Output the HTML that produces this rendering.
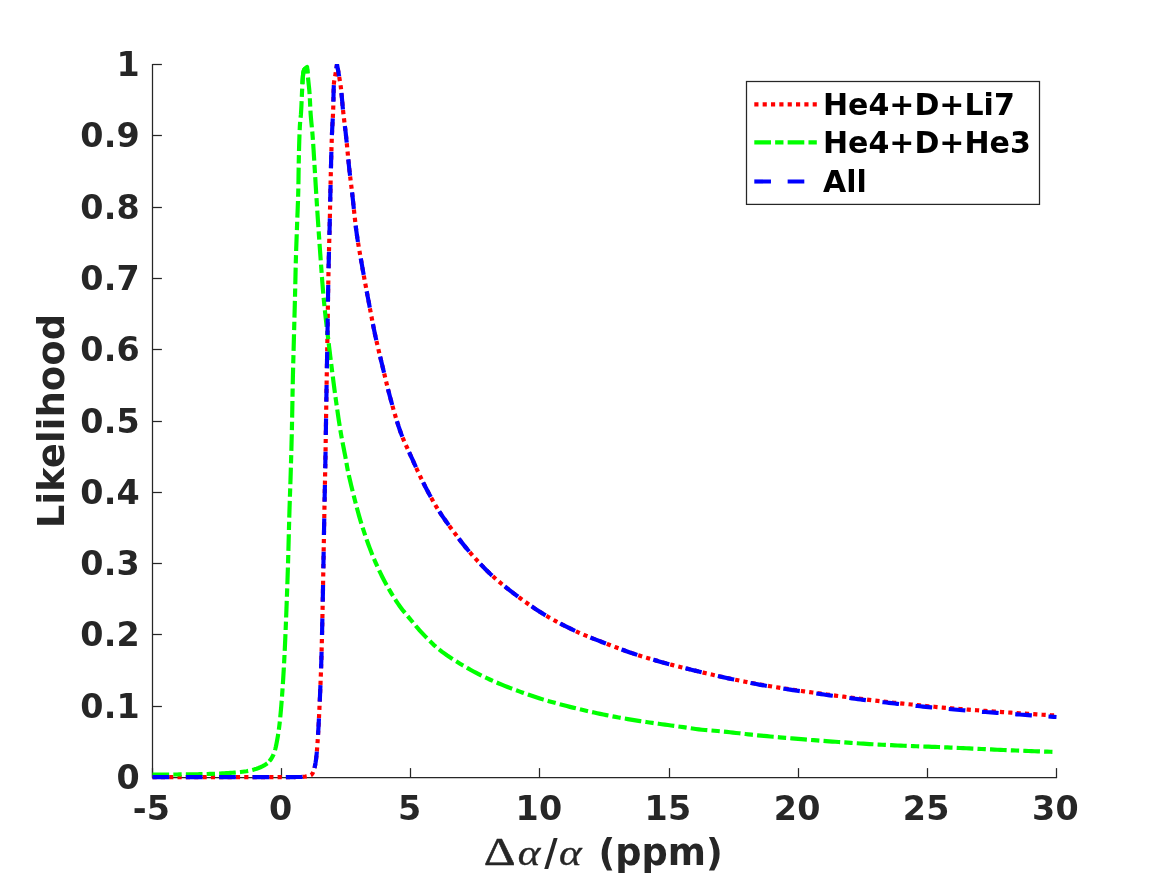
<!DOCTYPE html>
<html><head><meta charset="utf-8"><title>Likelihood</title>
<style>
html,body{margin:0;padding:0;background:#fff;}
svg{display:block;}
text{font-family:"DejaVu Sans","Liberation Sans",sans-serif;font-weight:bold;}
.tick{font-size:33.33px;fill:#262626;letter-spacing:0.3px;}
.lab{font-size:36.67px;fill:#262626;}
.leg{font-size:30px;fill:#000;}
.math{font-family:"Liberation Serif","DejaVu Serif",serif;font-weight:normal;}
</style></head><body>
<svg width="1167" height="875" viewBox="0 0 1167 875">
<rect width="1167" height="875" fill="#fff"/>

<g stroke="#262626" stroke-width="1.25" fill="none">
<path d="M152.5 63.9 V777.5 H1057.1"/>
<path d="M152.50 777.5 v-9.4"/>
<path d="M281.50 777.5 v-9.4"/>
<path d="M410.50 777.5 v-9.4"/>
<path d="M539.50 777.5 v-9.4"/>
<path d="M669.50 777.5 v-9.4"/>
<path d="M798.50 777.5 v-9.4"/>
<path d="M927.50 777.5 v-9.4"/>
<path d="M1056.50 777.5 v-9.4"/>
<path d="M152.5 777.50 h9.4"/>
<path d="M152.5 706.50 h9.4"/>
<path d="M152.5 634.50 h9.4"/>
<path d="M152.5 563.50 h9.4"/>
<path d="M152.5 492.50 h9.4"/>
<path d="M152.5 421.50 h9.4"/>
<path d="M152.5 349.50 h9.4"/>
<path d="M152.5 278.50 h9.4"/>
<path d="M152.5 207.50 h9.4"/>
<path d="M152.5 135.50 h9.4"/>
<path d="M152.5 64.50 h9.4"/>
</g>
<clipPath id="ax"><rect x="100" y="63.9" width="1000" height="760"/></clipPath>
<g fill="none" stroke-width="4.17" stroke-linejoin="round" stroke-linecap="butt" clip-path="url(#ax)">
<path d="M152.50 777.20 L154.68 777.20 L156.87 777.20 L159.05 777.20 L161.23 777.20 L163.42 777.20 L165.60 777.20 L167.78 777.20 L169.97 777.20 L172.15 777.20 L174.33 777.20 L176.51 777.20 L178.70 777.20 L180.88 777.20 L183.06 777.20 L185.25 777.20 L187.43 777.20 L189.61 777.20 L191.80 777.20 L193.98 777.20 L196.16 777.20 L198.35 777.20 L200.53 777.20 L202.71 777.20 L204.90 777.20 L207.08 777.20 L209.26 777.20 L211.45 777.20 L213.63 777.20 L215.81 777.20 L217.99 777.20 L220.18 777.20 L222.36 777.20 L224.54 777.20 L226.73 777.20 L228.91 777.20 L231.09 777.20 L233.28 777.20 L235.46 777.20 L237.64 777.20 L239.83 777.20 L242.01 777.20 L244.19 777.20 L246.38 777.20 L248.56 777.20 L250.74 777.20 L252.92 777.20 L255.11 777.20 L257.29 777.20 L259.48 777.20 L261.66 777.19 L263.85 777.19 L266.03 777.19 L268.22 777.18 L270.40 777.18 L272.58 777.17 L274.77 777.16 L276.95 777.16 L279.14 777.15 L281.32 777.14 L283.50 777.13 L285.69 777.11 L287.87 777.10 L290.05 777.09 L292.23 777.07 L294.41 777.05 L296.59 777.03 L298.77 777.01 L300.95 776.97 L303.14 776.80 L305.30 776.55 L307.64 776.18 L309.85 775.64 L311.45 774.84 L312.66 773.15 L313.61 770.90 L314.28 768.76 L314.80 766.68 L315.25 764.53 L315.62 762.36 L315.94 760.17 L316.21 758.00 L316.46 755.83 L316.67 753.66 L316.87 751.49 L317.05 749.31 L317.21 747.13 L317.37 744.95 L317.52 742.77 L317.67 740.59 L317.81 738.41 L317.95 736.24 L318.08 734.06 L318.22 731.88 L318.34 729.70 L318.47 727.52 L318.59 725.34 L318.70 723.16 L318.82 720.98 L318.93 718.80 L319.04 716.62 L319.14 714.44 L319.25 712.26 L319.35 710.07 L319.45 707.89 L319.55 705.71 L319.65 703.53 L319.75 701.35 L319.85 699.17 L319.95 696.99 L320.04 694.81 L320.14 692.63 L320.23 690.45 L320.32 688.26 L320.41 686.08 L320.50 683.90 L320.58 681.72 L320.67 679.54 L320.75 677.36 L320.83 675.17 L320.91 672.99 L320.99 670.81 L321.07 668.63 L321.14 666.45 L321.21 664.27 L321.28 662.08 L321.35 659.90 L321.41 657.72 L321.47 655.54 L321.53 653.36 L321.60 651.17 L321.65 648.99 L321.71 646.81 L321.77 644.63 L321.82 642.44 L321.88 640.26 L321.93 638.08 L321.99 635.90 L322.04 633.71 L322.09 631.53 L322.14 629.35 L322.19 627.17 L322.24 624.98 L322.29 622.80 L322.33 620.62 L322.38 618.43 L322.43 616.25 L322.48 614.07 L322.52 611.89 L322.57 609.70 L322.62 607.52 L322.66 605.34 L322.70 603.16 L322.75 600.97 L322.79 598.79 L322.83 596.61 L322.88 594.43 L322.92 592.24 L322.96 590.06 L323.00 587.88 L323.04 585.69 L323.08 583.51 L323.12 581.33 L323.16 579.15 L323.20 576.96 L323.24 574.78 L323.28 572.60 L323.32 570.41 L323.36 568.23 L323.40 566.05 L323.44 563.87 L323.48 561.68 L323.52 559.50 L323.56 557.32 L323.60 555.14 L323.64 552.95 L323.67 550.77 L323.71 548.59 L323.75 546.40 L323.79 544.22 L323.83 542.04 L323.87 539.86 L323.91 537.67 L323.94 535.49 L323.98 533.31 L324.02 531.12 L324.06 528.94 L324.10 526.76 L324.14 524.58 L324.18 522.39 L324.22 520.21 L324.26 518.03 L324.30 515.84 L324.35 513.66 L324.39 511.48 L324.43 509.30 L324.47 507.11 L324.52 504.93 L324.56 502.75 L324.60 500.57 L324.64 498.38 L324.69 496.20 L324.73 494.02 L324.77 491.83 L324.82 489.65 L324.86 487.47 L324.90 485.29 L324.95 483.10 L324.99 480.92 L325.03 478.74 L325.08 476.56 L325.12 474.37 L325.16 472.19 L325.21 470.01 L325.25 467.83 L325.30 465.64 L325.34 463.46 L325.38 461.28 L325.42 459.09 L325.46 456.91 L325.49 454.73 L325.53 452.55 L325.57 450.36 L325.60 448.18 L325.64 446.00 L325.67 443.81 L325.70 441.63 L325.74 439.45 L325.77 437.27 L325.80 435.08 L325.84 432.90 L325.87 430.72 L325.90 428.53 L325.93 426.35 L325.97 424.17 L326.00 421.99 L326.04 419.80 L326.07 417.62 L326.10 415.44 L326.14 413.25 L326.17 411.07 L326.21 408.89 L326.24 406.71 L326.28 404.52 L326.31 402.34 L326.35 400.16 L326.38 397.97 L326.42 395.79 L326.46 393.61 L326.49 391.43 L326.53 389.24 L326.56 387.06 L326.60 384.88 L326.63 382.69 L326.67 380.51 L326.71 378.33 L326.74 376.15 L326.78 373.96 L326.82 371.78 L326.85 369.60 L326.89 367.41 L326.93 365.23 L326.97 363.05 L327.01 360.87 L327.05 358.68 L327.09 356.50 L327.13 354.32 L327.17 352.13 L327.21 349.95 L327.25 347.77 L327.29 345.59 L327.32 343.40 L327.36 341.22 L327.40 339.04 L327.44 336.85 L327.47 334.67 L327.51 332.49 L327.54 330.31 L327.58 328.12 L327.61 325.94 L327.64 323.76 L327.67 321.57 L327.70 319.39 L327.73 317.21 L327.76 315.03 L327.79 312.84 L327.83 310.66 L327.86 308.48 L327.89 306.29 L327.92 304.11 L327.95 301.93 L327.99 299.75 L328.02 297.56 L328.06 295.38 L328.09 293.20 L328.13 291.01 L328.17 288.83 L328.21 286.65 L328.25 284.47 L328.29 282.28 L328.34 280.10 L328.38 277.92 L328.43 275.73 L328.47 273.55 L328.52 271.37 L328.56 269.19 L328.61 267.00 L328.66 264.82 L328.71 262.64 L328.76 260.46 L328.81 258.27 L328.86 256.09 L328.91 253.91 L328.97 251.73 L329.03 249.54 L329.08 247.36 L329.14 245.18 L329.20 243.00 L329.26 240.81 L329.32 238.63 L329.38 236.45 L329.44 234.27 L329.50 232.09 L329.56 229.90 L329.62 227.72 L329.67 225.54 L329.72 223.36 L329.77 221.17 L329.82 218.99 L329.87 216.81 L329.92 214.63 L329.97 212.44 L330.01 210.26 L330.06 208.08 L330.10 205.89 L330.15 203.71 L330.19 201.53 L330.24 199.35 L330.29 197.16 L330.33 194.98 L330.38 192.80 L330.43 190.62 L330.48 188.43 L330.53 186.25 L330.57 184.07 L330.62 181.89 L330.67 179.70 L330.72 177.52 L330.77 175.34 L330.82 173.16 L330.88 170.97 L330.93 168.79 L330.99 166.61 L331.04 164.43 L331.10 162.24 L331.15 160.06 L331.21 157.88 L331.27 155.70 L331.33 153.51 L331.39 151.33 L331.46 149.15 L331.52 146.97 L331.59 144.78 L331.66 142.60 L331.73 140.42 L331.81 138.24 L331.89 136.06 L331.97 133.88 L332.07 131.69 L332.17 129.51 L332.29 127.33 L332.41 125.15 L332.53 122.97 L332.65 120.79 L332.77 118.61 L332.88 116.43 L332.99 114.25 L333.09 112.07 L333.17 109.89 L333.25 107.71 L333.31 105.52 L333.36 103.34 L333.40 101.15 L333.45 98.96 L333.49 96.77 L333.53 94.59 L333.58 92.40 L333.64 90.22 L333.71 88.05 L333.80 85.87 L333.91 83.70 L334.15 81.54 L334.53 79.39 L334.96 77.24 L335.33 75.09 L335.67 72.93 L336.01 70.77 L336.34 68.62 L336.67 66.46 L337.00 64.30 L337.51 67.10 L338.02 69.91 L338.51 72.71 L338.99 75.52 L339.46 78.33 L339.93 81.14 L340.39 83.96 L340.77 86.78 L341.10 89.61 L341.39 92.44 L341.67 95.28 L341.92 98.11 L342.17 100.95 L342.42 103.79 L342.68 106.63 L342.95 109.47 L343.25 112.30 L343.57 115.13 L343.90 117.96 L344.24 120.79 L344.58 123.62 L344.93 126.45 L345.27 129.28 L345.60 132.11 L345.92 134.94 L346.22 137.78 L346.51 140.61 L346.79 143.44 L347.07 146.28 L347.34 149.12 L347.61 151.95 L347.88 154.79 L348.15 157.63 L348.42 160.46 L348.70 163.30 L348.99 166.13 L349.29 168.97 L349.60 171.80 L349.93 174.63 L350.27 177.46 L350.61 180.29 L350.96 183.12 L351.31 185.94 L351.65 188.77 L351.99 191.60 L352.31 194.43 L352.63 197.27 L352.93 200.10 L353.23 202.93 L353.53 205.77 L353.82 208.60 L354.12 211.44 L354.42 214.27 L354.72 217.11 L355.04 219.94 L355.36 222.77 L355.69 225.60 L356.03 228.43 L356.39 231.25 L356.77 234.07 L357.18 236.89 L357.60 239.71 L358.04 242.52 L358.50 245.33 L358.97 248.14 L359.45 250.95 L359.94 253.76 L360.44 256.57 L360.93 259.38 L361.43 262.18 L361.93 264.99 L362.42 267.80 L362.92 270.60 L363.42 273.41 L363.92 276.21 L364.44 279.01 L364.95 281.82 L365.47 284.62 L365.99 287.42 L366.52 290.22 L367.04 293.02 L367.57 295.82 L368.10 298.62 L368.62 301.42 L369.15 304.22 L369.67 307.02 L370.19 309.83 L370.71 312.63 L371.24 315.43 L371.77 318.23 L372.31 321.03 L372.85 323.82 L373.41 326.62 L373.97 329.41 L374.55 332.20 L375.14 334.99 L375.74 337.77 L376.37 340.55 L377.00 343.33 L377.64 346.10 L378.30 348.88 L378.96 351.65 L379.62 354.42 L380.29 357.19 L380.96 359.96 L381.62 362.73 L382.29 365.50 L382.95 368.28 L383.61 371.05 L384.28 373.82 L384.94 376.59 L385.61 379.36 L386.28 382.13 L386.96 384.90 L387.65 387.67 L388.35 390.43 L389.06 393.19 L389.78 395.94 L390.52 398.69 L391.27 401.44 L392.03 404.19 L392.78 406.94 L393.55 409.69 L394.33 412.44 L395.13 415.18 L395.94 417.92 L396.77 420.65 L397.62 423.37 L398.49 426.08 L399.39 428.78 L400.32 431.46 L401.29 434.12 L402.31 436.77 L403.38 439.40 L404.50 442.02 L405.65 444.63 L406.83 447.23 L408.02 449.83 L409.23 452.42 L410.43 455.01 L411.62 457.60 L412.80 460.20 L413.96 462.80 L415.13 465.40 L416.30 468.00 L417.49 470.59 L418.69 473.17 L419.91 475.74 L421.15 478.31 L422.39 480.88 L423.65 483.44 L424.93 485.98 L426.22 488.52 L427.54 491.05 L428.87 493.56 L430.23 496.07 L431.60 498.57 L433.00 501.06 L434.42 503.53 L435.86 505.99 L437.34 508.43 L438.84 510.84 L440.39 513.23 L441.98 515.59 L443.60 517.93 L445.25 520.26 L446.91 522.58 L448.59 524.89 L450.27 527.19 L451.95 529.49 L453.64 531.78 L455.35 534.07 L457.06 536.36 L458.79 538.63 L460.53 540.89 L462.29 543.13 L464.07 545.36 L465.87 547.56 L467.69 549.74 L469.53 551.90 L471.40 554.06 L473.28 556.20 L475.18 558.33 L477.10 560.44 L479.04 562.54 L481.00 564.62 L482.98 566.68 L484.98 568.72 L487.01 570.73 L489.05 572.71 L491.11 574.66 L493.19 576.58 L495.30 578.48 L497.45 580.35 L499.62 582.19 L501.81 584.02 L504.03 585.82 L506.26 587.60 L508.51 589.37 L510.77 591.12 L513.04 592.85 L515.31 594.57 L517.59 596.27 L519.88 597.97 L522.18 599.65 L524.48 601.33 L526.80 602.99 L529.14 604.64 L531.48 606.27 L533.84 607.88 L536.21 609.47 L538.60 611.03 L541.00 612.56 L543.41 614.06 L545.84 615.52 L548.29 616.97 L550.76 618.39 L553.24 619.79 L555.74 621.16 L558.25 622.52 L560.78 623.86 L563.31 625.17 L565.86 626.46 L568.42 627.73 L570.98 628.98 L573.56 630.20 L576.13 631.39 L578.72 632.56 L581.33 633.70 L583.95 634.82 L586.58 635.92 L589.22 636.99 L591.87 638.06 L594.52 639.11 L597.18 640.15 L599.84 641.18 L602.50 642.21 L605.16 643.23 L607.82 644.25 L610.48 645.28 L613.14 646.29 L615.81 647.30 L618.48 648.30 L621.15 649.30 L623.83 650.27 L626.51 651.24 L629.20 652.18 L631.89 653.10 L634.59 654.01 L637.30 654.88 L640.01 655.75 L642.73 656.59 L645.46 657.42 L648.19 658.24 L650.92 659.04 L653.66 659.84 L656.41 660.62 L659.15 661.39 L661.90 662.15 L664.65 662.90 L667.40 663.65 L670.15 664.39 L672.90 665.11 L675.66 665.83 L678.42 666.54 L681.18 667.24 L683.95 667.93 L686.71 668.61 L689.48 669.29 L692.25 669.96 L695.02 670.63 L697.79 671.29 L700.56 671.95 L703.34 672.61 L706.11 673.27 L708.88 673.92 L711.66 674.57 L714.44 675.20 L717.22 675.82 L720.00 676.43 L722.78 677.03 L725.57 677.63 L728.36 678.23 L731.15 678.82 L733.93 679.41 L736.73 679.99 L739.52 680.57 L742.31 681.14 L745.11 681.70 L747.90 682.25 L750.70 682.79 L753.50 683.32 L756.30 683.84 L759.10 684.34 L761.91 684.84 L764.71 685.32 L767.52 685.79 L770.33 686.25 L773.14 686.71 L775.95 687.16 L778.77 687.60 L781.58 688.04 L784.40 688.47 L787.22 688.89 L790.04 689.31 L792.86 689.73 L795.68 690.14 L798.50 690.55 L801.32 690.95 L804.15 691.35 L806.97 691.74 L809.79 692.14 L812.62 692.53 L815.44 692.91 L818.26 693.30 L821.09 693.69 L823.91 694.07 L826.73 694.45 L829.55 694.83 L832.38 695.21 L835.20 695.58 L838.03 695.96 L840.85 696.33 L843.68 696.69 L846.51 697.06 L849.33 697.42 L852.16 697.78 L854.99 698.13 L857.82 698.48 L860.64 698.83 L863.47 699.18 L866.30 699.52 L869.13 699.86 L871.96 700.19 L874.79 700.53 L877.62 700.85 L880.45 701.18 L883.28 701.50 L886.11 701.81 L888.95 702.13 L891.78 702.44 L894.61 702.75 L897.44 703.06 L900.28 703.36 L903.11 703.66 L905.94 703.96 L908.78 704.26 L911.61 704.55 L914.45 704.85 L917.28 705.13 L920.12 705.42 L922.95 705.70 L925.79 705.98 L928.63 706.25 L931.46 706.52 L934.30 706.78 L937.14 707.05 L939.97 707.30 L942.81 707.55 L945.65 707.80 L948.49 708.04 L951.33 708.28 L954.17 708.52 L957.01 708.75 L959.85 708.97 L962.69 709.20 L965.53 709.42 L968.37 709.64 L971.21 709.85 L974.05 710.06 L976.89 710.27 L979.74 710.48 L982.58 710.69 L985.42 710.89 L988.26 711.09 L991.11 711.29 L993.95 711.49 L996.79 711.69 L999.63 711.89 L1002.48 712.08 L1005.32 712.28 L1008.16 712.48 L1011.00 712.67 L1013.85 712.87 L1016.69 713.06 L1019.53 713.25 L1022.38 713.44 L1025.22 713.63 L1028.06 713.81 L1030.91 714.00 L1033.75 714.18 L1036.59 714.37 L1039.44 714.55 L1042.28 714.73 L1045.12 714.90 L1047.97 715.08 L1050.81 715.25 L1053.66 715.43 L1056.50 715.60" stroke="#ff0000" stroke-dasharray="4.17 4.17"/>
<path d="M152.50 774.60 L154.55 774.60 L156.60 774.60 L158.65 774.59 L160.70 774.58 L162.75 774.58 L164.79 774.57 L166.84 774.55 L168.89 774.54 L170.94 774.52 L172.99 774.51 L175.04 774.49 L177.09 774.47 L179.13 774.45 L181.18 774.43 L183.23 774.40 L185.28 774.38 L187.33 774.36 L189.37 774.33 L191.42 774.30 L193.47 774.27 L195.52 774.24 L197.57 774.22 L199.61 774.18 L201.66 774.15 L203.71 774.10 L205.76 774.05 L207.81 773.99 L209.86 773.92 L211.90 773.85 L213.95 773.77 L216.00 773.69 L218.05 773.60 L220.09 773.50 L222.14 773.40 L224.18 773.30 L226.23 773.19 L228.27 773.07 L230.32 772.93 L232.37 772.78 L234.42 772.62 L236.47 772.43 L238.52 772.22 L240.56 772.00 L242.59 771.75 L244.61 771.49 L246.61 771.20 L248.62 770.85 L250.64 770.42 L252.65 769.91 L254.64 769.33 L256.61 768.69 L258.53 768.00 L260.40 767.26 L262.27 766.41 L264.14 765.42 L265.93 764.29 L267.56 763.06 L267.73 762.90" stroke="#00ff00" stroke-dasharray="16.67 4.17 8.33 4.17"/>
<path d="M267.73 762.90 L268.95 761.73 L270.23 760.19 L271.43 758.47 L272.50 756.63 L273.42 754.74 L274.16 752.87 L274.77 750.96 L275.31 748.99 L275.80 746.98 L276.23 744.95 L276.64 742.91 L277.02 740.90 L277.39 738.88 L277.74 736.87 L278.07 734.84 L278.39 732.82 L278.68 730.79 L278.96 728.76 L279.22 726.72 L279.46 724.69 L279.69 722.66 L279.90 720.62 L280.12 718.59 L280.32 716.55 L280.51 714.51 L280.70 712.47 L280.89 710.43 L281.06 708.38 L281.24 706.34 L281.40 704.30 L281.56 702.26 L281.72 700.21 L281.88 698.17 L282.03 696.12 L282.17 694.08 L282.32 692.04 L282.46 690.00 L282.60 687.95 L282.74 685.91 L282.87 683.86 L283.00 681.82 L283.13 679.78 L283.26 677.73 L283.38 675.69 L283.50 673.64 L283.62 671.60 L283.74 669.55 L283.85 667.50 L283.96 665.46 L284.07 663.41 L284.18 661.37 L284.29 659.32 L284.39 657.28 L284.50 655.23 L284.60 653.18 L284.70 651.14 L284.80 649.09 L284.89 647.05 L284.99 645.00 L285.08 642.95 L285.17 640.91 L285.26 638.86 L285.35 636.81 L285.44 634.77 L285.52 632.72 L285.61 630.67 L285.69 628.63 L285.77 626.58 L285.85 624.53 L285.93 622.48 L286.01 620.44 L286.09 618.39 L286.17 616.34 L286.25 614.30 L286.33 612.25 L286.41 610.20 L286.48 608.16 L286.56 606.11 L286.64 604.06 L286.71 602.01 L286.79 599.97 L286.86 597.92 L286.94 595.87 L287.01 593.83 L287.09 591.78 L287.16 589.73 L287.23 587.68 L287.30 585.64 L287.37 583.59 L287.44 581.54 L287.51 579.49 L287.58 577.45 L287.65 575.40 L287.71 573.35 L287.78 571.31 L287.85 569.26 L287.91 567.21 L287.97 565.16 L288.04 563.12 L288.10 561.07 L288.16 559.02 L288.22 556.97 L288.27 554.92 L288.33 552.88 L288.38 550.83 L288.44 548.78 L288.49 546.73 L288.55 544.69 L288.60 542.64 L288.65 540.59 L288.71 538.54 L288.76 536.49 L288.81 534.45 L288.86 532.40 L288.92 530.35 L288.97 528.30 L289.02 526.26 L289.08 524.21 L289.13 522.16 L289.19 520.11 L289.25 518.06 L289.31 516.02 L289.37 513.97 L289.43 511.92 L289.49 509.87 L289.55 507.83 L289.62 505.78 L289.69 503.73 L289.75 501.68 L289.82 499.64 L289.89 497.59 L289.96 495.54 L290.03 493.49 L290.10 491.45 L290.17 489.40 L290.24 487.35 L290.31 485.31 L290.38 483.26 L290.45 481.21 L290.52 479.16 L290.58 477.12 L290.65 475.07 L290.71 473.02 L290.77 470.97 L290.83 468.93 L290.89 466.88 L290.95 464.83 L291.01 462.78 L291.07 460.73 L291.13 458.69 L291.18 456.64 L291.24 454.59 L291.30 452.54 L291.35 450.50 L291.41 448.45 L291.46 446.40 L291.52 444.35 L291.57 442.30 L291.62 440.26 L291.67 438.21 L291.72 436.16 L291.77 434.11 L291.82 432.07 L291.87 430.02 L291.92 427.97 L291.96 425.92 L292.01 423.87 L292.05 421.83 L292.09 419.78 L292.13 417.73 L292.17 415.68 L292.21 413.63 L292.25 411.58 L292.29 409.54 L292.32 407.49 L292.36 405.44 L292.39 403.39 L292.43 401.34 L292.46 399.30 L292.50 397.25 L292.53 395.20 L292.57 393.15 L292.61 391.10 L292.65 389.05 L292.68 387.01 L292.73 384.96 L292.77 382.91 L292.81 380.86 L292.86 378.81 L292.90 376.77 L292.95 374.72 L293.00 372.67 L293.05 370.62 L293.10 368.57 L293.16 366.53 L293.21 364.48 L293.26 362.43 L293.32 360.38 L293.37 358.34 L293.43 356.29 L293.48 354.24 L293.54 352.19 L293.60 350.14 L293.65 348.10 L293.71 346.05 L293.76 344.00 L293.82 341.95 L293.87 339.91 L293.93 337.86 L293.98 335.81 L294.03 333.76 L294.09 331.71 L294.14 329.67 L294.20 327.62 L294.25 325.57 L294.30 323.52 L294.36 321.48 L294.41 319.43 L294.47 317.38 L294.52 315.33 L294.57 313.28 L294.63 311.24 L294.68 309.19 L294.74 307.14 L294.79 305.09 L294.84 303.05 L294.89 301.00 L294.95 298.95 L295.00 296.90 L295.05 294.85 L295.10 292.81 L295.15 290.76 L295.20 288.71 L295.24 286.66 L295.29 284.61 L295.34 282.57 L295.38 280.52 L295.42 278.47 L295.47 276.42 L295.51 274.37 L295.56 272.33 L295.61 270.28 L295.65 268.23 L295.70 266.18 L295.75 264.13 L295.81 262.09 L295.86 260.04 L295.92 257.99 L295.98 255.94 L296.04 253.90 L296.11 251.85 L296.17 249.80 L296.24 247.75 L296.32 245.71 L296.39 243.66 L296.46 241.61 L296.54 239.57 L296.62 237.52 L296.69 235.47 L296.77 233.42 L296.84 231.38 L296.92 229.33 L296.99 227.28 L297.07 225.23 L297.14 223.19 L297.21 221.14 L297.29 219.09 L297.37 217.05 L297.45 215.00 L297.53 212.95 L297.61 210.90 L297.69 208.86 L297.77 206.81 L297.84 204.76 L297.92 202.72 L297.99 200.67 L298.06 198.62 L298.12 196.57 L298.19 194.53 L298.24 192.48 L298.29 190.43 L298.33 188.38 L298.37 186.34 L298.41 184.29 L298.45 182.24 L298.48 180.19 L298.51 178.14 L298.54 176.09 L298.56 174.05 L298.59 172.00 L298.62 169.95 L298.65 167.90 L298.68 165.85 L298.72 163.80 L298.76 161.76 L298.80 159.71 L298.84 157.66 L298.89 155.61 L298.94 153.56 L298.98 151.51 L299.03 149.47 L299.09 147.42 L299.14 145.37 L299.20 143.32 L299.26 141.27 L299.33 139.22 L299.40 137.17 L299.47 135.13 L299.55 133.08 L299.64 131.04 L299.73 128.99 L299.82 126.95 L299.93 124.90 L300.08 122.86 L300.27 120.82 L300.49 118.78 L300.70 116.74 L300.90 114.70 L301.04 112.66 L301.16 110.62 L301.27 108.57 L301.38 106.53 L301.47 104.48 L301.56 102.43 L301.65 100.39 L301.74 98.34 L301.83 96.29 L301.92 94.25 L302.02 92.20 L302.12 90.15 L302.21 88.10 L302.30 86.06 L302.40 84.01 L302.51 81.96 L302.63 79.92 L302.78 77.87 L302.96 75.75 L303.18 73.66 L303.50 71.69 L304.08 69.88 L305.42 68.19 L307.10 67.00 L307.35 70.11 L307.61 73.21 L307.63 73.40" stroke="#00ff00" stroke-dasharray="16.67 4.17 8.33 4.17" stroke-dashoffset="18.57"/>
<path d="M302.41 83.80 L302.51 81.96 L302.63 79.92 L302.78 77.87 L302.96 75.75 L303.18 73.66 L303.50 71.69 L304.08 69.88 L305.42 68.19 L307.10 67.00 L307.35 70.11 L307.61 73.21 L307.63 73.40" stroke="#00ff00"/>
<path d="M307.99 77.50 L308.18 79.42 L308.50 82.52 L308.84 85.63 L309.16 88.73 L309.44 91.83 L309.65 94.94 L309.82 98.05 L309.98 101.17 L310.12 104.28 L310.27 107.40 L310.43 110.51 L310.62 113.62 L310.86 116.73 L311.13 119.83 L311.42 122.94 L311.73 126.04 L312.03 129.14 L312.32 132.25 L312.57 135.36 L312.80 138.46 L313.02 141.57 L313.24 144.68 L313.44 147.79 L313.64 150.91 L313.83 154.02 L314.02 157.13 L314.21 160.24 L314.40 163.35 L314.58 166.47 L314.77 169.58 L314.96 172.69 L315.15 175.80 L315.34 178.91 L315.52 182.02 L315.70 185.14 L315.89 188.25 L316.08 191.36 L316.28 194.47 L316.47 197.58 L316.67 200.69 L316.86 203.81 L317.06 206.92 L317.26 210.03 L317.46 213.14 L317.67 216.25 L317.87 219.36 L318.08 222.47 L318.29 225.58 L318.50 228.69 L318.71 231.80 L318.92 234.91 L319.14 238.02 L319.35 241.13 L319.57 244.24 L319.79 247.35 L320.01 250.46 L320.24 253.57 L320.46 256.68 L320.69 259.79 L320.91 262.90 L321.14 266.01 L321.36 269.12 L321.59 272.23 L321.81 275.34 L322.05 278.45 L322.28 281.56 L322.53 284.66 L322.78 287.77 L323.04 290.88 L323.30 293.98 L323.58 297.09 L323.88 300.19 L324.18 303.29 L324.49 306.40 L324.81 309.50 L325.13 312.60 L325.46 315.70 L325.80 318.80 L326.16 321.89 L326.52 324.99 L326.88 328.09 L327.26 331.18 L327.63 334.28 L328.00 337.37 L328.37 340.47 L328.74 343.56 L329.11 346.66 L329.48 349.76 L329.86 352.85 L330.23 355.94 L330.61 359.04 L330.99 362.13 L331.38 365.23 L331.76 368.32 L332.15 371.41 L332.54 374.51 L332.94 377.60 L333.33 380.69 L333.73 383.78 L334.13 386.88 L334.53 389.97 L334.94 393.06 L335.36 396.15 L335.79 399.23 L336.22 402.32 L336.65 405.41 L337.09 408.50 L337.53 411.58 L337.98 414.67 L338.43 417.76 L338.89 420.84 L339.37 423.92 L339.85 427.00 L340.35 430.08 L340.86 433.15 L341.39 436.22 L341.96 439.28 L342.54 442.35 L343.14 445.41 L343.75 448.47 L344.35 451.53 L344.95 454.59 L345.53 457.65 L346.09 460.72 L346.61 463.79 L347.13 466.87 L347.69 469.93 L348.31 472.98 L348.97 476.03 L349.68 479.07 L350.40 482.10 L351.15 485.13 L351.90 488.16 L352.64 491.18 L353.39 494.21 L354.14 497.24 L354.90 500.26 L355.68 503.28 L356.46 506.30 L357.26 509.32 L358.08 512.32 L358.93 515.32 L359.79 518.31 L360.68 521.30 L361.59 524.28 L362.52 527.26 L363.48 530.23 L364.45 533.20 L365.45 536.16 L366.47 539.11 L367.51 542.05 L368.57 544.98 L369.66 547.89 L370.77 550.80 L371.91 553.70 L373.08 556.59 L374.28 559.47 L375.51 562.35 L376.77 565.21 L378.06 568.05 L379.37 570.88 L380.72 573.69 L382.09 576.48 L383.50 579.25 L384.95 582.00 L386.44 584.74 L387.97 587.47 L389.54 590.17 L391.13 592.86 L392.76 595.53 L394.41 598.17 L396.08 600.79 L397.81 603.39 L399.60 605.94 L401.44 608.46 L403.33 610.94 L405.30 613.35 L407.32 615.73 L409.33 618.12 L411.31 620.52 L413.29 622.94 L415.28 625.34 L417.30 627.71 L419.37 630.03 L421.47 632.34 L423.60 634.62 L425.75 636.88 L427.93 639.12 L430.14 641.32 L432.37 643.49 L434.63 645.64 L436.96 647.73 L439.35 649.70 L441.82 651.59 L444.34 653.43 L446.90 655.23 L449.50 656.97 L452.11 658.68 L454.73 660.36 L457.37 662.01 L460.02 663.65 L462.69 665.26 L465.38 666.86 L468.09 668.42 L470.81 669.96 L473.54 671.47 L476.29 672.94 L479.06 674.38 L481.84 675.77 L484.63 677.13 L487.45 678.45 L490.28 679.75 L493.14 681.01 L496.00 682.25 L498.88 683.46 L501.77 684.65 L504.67 685.82 L507.57 686.97 L510.47 688.10 L513.37 689.21 L516.29 690.31 L519.22 691.40 L522.15 692.46 L525.09 693.51 L528.03 694.55 L530.99 695.56 L533.95 696.55 L536.91 697.51 L539.88 698.46 L542.85 699.38 L545.83 700.27 L548.82 701.15 L551.82 702.02 L554.82 702.86 L557.83 703.69 L560.84 704.51 L563.85 705.31 L566.87 706.09 L569.90 706.86 L572.92 707.61 L575.95 708.36 L578.98 709.09 L582.01 709.81 L585.05 710.51 L588.09 711.21 L591.13 711.90 L594.17 712.57 L597.22 713.23 L600.27 713.88 L603.33 714.52 L606.38 715.14 L609.44 715.74 L612.50 716.33 L615.56 716.91 L618.63 717.47 L621.70 718.02 L624.77 718.56 L627.84 719.08 L630.92 719.60 L633.99 720.10 L637.07 720.59 L640.15 721.08 L643.23 721.56 L646.32 722.03 L649.40 722.49 L652.48 722.93 L655.57 723.37 L658.66 723.80 L661.75 724.22 L664.84 724.63 L667.93 725.04 L671.02 725.45 L674.11 725.87 L677.20 726.28 L680.29 726.71 L683.38 727.14 L686.46 727.60 L689.54 728.07 L692.63 728.53 L695.71 728.97 L698.80 729.36 L701.90 729.70 L705.00 729.99 L708.11 730.25 L711.22 730.51 L714.33 730.76 L717.43 731.02 L720.54 731.31 L723.64 731.62 L726.74 731.94 L729.84 732.27 L732.94 732.60 L736.04 732.95 L739.14 733.29 L742.24 733.64 L745.34 733.99 L748.43 734.33 L751.53 734.67 L754.63 734.99 L757.73 735.31 L760.84 735.62 L763.94 735.91 L767.04 736.20 L770.15 736.49 L773.25 736.77 L776.36 737.05 L779.46 737.33 L782.57 737.61 L785.67 737.88 L788.78 738.14 L791.89 738.41 L794.99 738.67 L798.10 738.93 L801.21 739.18 L804.32 739.43 L807.42 739.68 L810.53 739.93 L813.64 740.17 L816.75 740.40 L819.86 740.64 L822.97 740.87 L826.07 741.10 L829.18 741.32 L832.29 741.55 L835.40 741.77 L838.51 741.99 L841.62 742.21 L844.73 742.43 L847.84 742.65 L850.95 742.86 L854.06 743.07 L857.18 743.27 L860.29 743.47 L863.40 743.67 L866.51 743.86 L869.62 744.05 L872.73 744.23 L875.85 744.41 L878.96 744.58 L882.07 744.75 L885.18 744.90 L888.30 745.06 L891.41 745.20 L894.53 745.34 L897.64 745.48 L900.75 745.61 L903.87 745.74 L906.98 745.86 L910.10 745.98 L913.21 746.10 L916.33 746.22 L919.45 746.34 L922.56 746.45 L925.68 746.57 L928.79 746.68 L931.91 746.80 L935.02 746.92 L938.14 747.04 L941.25 747.17 L944.37 747.30 L947.48 747.43 L950.60 747.56 L953.71 747.70 L956.83 747.84 L959.94 747.99 L963.06 748.13 L966.17 748.27 L969.28 748.42 L972.40 748.57 L975.51 748.71 L978.63 748.86 L981.74 749.01 L984.85 749.15 L987.97 749.30 L991.08 749.44 L994.20 749.58 L997.31 749.72 L1000.43 749.86 L1003.54 749.99 L1006.66 750.12 L1009.77 750.25 L1012.88 750.38 L1016.00 750.50 L1019.11 750.63 L1022.23 750.75 L1025.35 750.87 L1028.46 750.99 L1031.58 751.11 L1034.69 751.22 L1037.81 751.34 L1040.92 751.45 L1044.04 751.56 L1047.15 751.68 L1050.27 751.78 L1053.38 751.89 L1056.50 752.00" stroke="#00ff00" stroke-dasharray="16.67 4.17 8.33 4.17"/>
<path d="M152.50 777.20 L154.68 777.20 L156.87 777.20 L159.05 777.20 L161.23 777.20 L163.42 777.20 L165.60 777.20 L167.78 777.20 L169.97 777.20 L172.15 777.20 L174.33 777.20 L176.51 777.20 L178.70 777.20 L180.88 777.20 L183.06 777.20 L185.25 777.20 L187.43 777.20 L189.61 777.20 L191.80 777.20 L193.98 777.20 L196.16 777.20 L198.35 777.20 L200.53 777.20 L202.71 777.20 L204.90 777.20 L207.08 777.20 L209.26 777.20 L211.45 777.20 L213.63 777.20 L215.81 777.20 L217.99 777.20 L220.18 777.20 L222.36 777.20 L224.54 777.20 L226.73 777.20 L228.91 777.20 L231.09 777.20 L233.28 777.20 L235.46 777.20 L237.64 777.20 L239.83 777.20 L242.01 777.20 L244.19 777.20 L246.38 777.20 L248.56 777.20 L250.74 777.20 L252.92 777.20 L255.11 777.20 L257.29 777.20 L259.48 777.20 L261.66 777.19 L263.85 777.19 L266.03 777.19 L268.22 777.18 L270.40 777.18 L272.58 777.17 L274.77 777.16 L276.95 777.16 L279.14 777.15 L281.32 777.14 L283.50 777.13 L285.69 777.11 L287.87 777.10 L290.05 777.09 L292.23 777.07 L294.41 777.05 L296.59 777.03 L298.77 777.01 L300.95 776.97 L303.14 776.80 L305.30 776.55 L307.64 776.18 L309.85 775.64 L311.45 774.84 L312.66 773.15 L313.61 770.90 L314.28 768.76 L314.80 766.68 L315.25 764.53 L315.62 762.36 L315.94 760.17 L316.21 758.00 L316.46 755.83 L316.67 753.66 L316.87 751.49 L317.05 749.31 L317.21 747.13 L317.37 744.95 L317.52 742.77 L317.67 740.59 L317.81 738.41 L317.95 736.24 L318.08 734.06 L318.22 731.88 L318.34 729.70 L318.47 727.52 L318.59 725.34 L318.70 723.16 L318.82 720.98 L318.93 718.80 L319.04 716.62 L319.14 714.44 L319.25 712.26 L319.35 710.07 L319.45 707.89 L319.55 705.71 L319.65 703.53 L319.75 701.35 L319.85 699.17 L319.95 696.99 L320.04 694.81 L320.14 692.63 L320.23 690.45 L320.32 688.26 L320.41 686.08 L320.50 683.90 L320.58 681.72 L320.67 679.54 L320.75 677.36 L320.83 675.17 L320.91 672.99 L320.99 670.81 L321.07 668.63 L321.14 666.45 L321.21 664.27 L321.28 662.08 L321.35 659.90 L321.41 657.72 L321.47 655.54 L321.53 653.36 L321.60 651.17 L321.65 648.99 L321.71 646.81 L321.77 644.63 L321.82 642.44 L321.88 640.26 L321.93 638.08 L321.99 635.90 L322.04 633.71 L322.09 631.53 L322.14 629.35 L322.19 627.17 L322.24 624.98 L322.29 622.80 L322.33 620.62 L322.38 618.43 L322.43 616.25 L322.48 614.07 L322.52 611.89 L322.57 609.70 L322.62 607.52 L322.66 605.34 L322.70 603.16 L322.75 600.97 L322.79 598.79 L322.83 596.61 L322.88 594.43 L322.92 592.24 L322.96 590.06 L323.00 587.88 L323.04 585.69 L323.08 583.51 L323.12 581.33 L323.16 579.15 L323.20 576.96 L323.24 574.78 L323.28 572.60 L323.32 570.41 L323.36 568.23 L323.40 566.05 L323.44 563.87 L323.48 561.68 L323.52 559.50 L323.56 557.32 L323.60 555.14 L323.64 552.95 L323.67 550.77 L323.71 548.59 L323.75 546.40 L323.79 544.22 L323.83 542.04 L323.87 539.86 L323.91 537.67 L323.94 535.49 L323.98 533.31 L324.02 531.12 L324.06 528.94 L324.10 526.76 L324.14 524.58 L324.18 522.39 L324.22 520.21 L324.26 518.03 L324.30 515.84 L324.35 513.66 L324.39 511.48 L324.43 509.30 L324.47 507.11 L324.52 504.93 L324.56 502.75 L324.60 500.57 L324.64 498.38 L324.69 496.20 L324.73 494.02 L324.77 491.83 L324.82 489.65 L324.86 487.47 L324.90 485.29 L324.95 483.10 L324.99 480.92 L325.03 478.74 L325.08 476.56 L325.12 474.37 L325.16 472.19 L325.21 470.01 L325.25 467.83 L325.30 465.64 L325.34 463.46 L325.38 461.28 L325.42 459.09 L325.46 456.91 L325.49 454.73 L325.53 452.55 L325.57 450.36 L325.60 448.18 L325.64 446.00 L325.67 443.81 L325.70 441.63 L325.74 439.45 L325.77 437.27 L325.80 435.08 L325.84 432.90 L325.87 430.72 L325.90 428.53 L325.93 426.35 L325.97 424.17 L326.00 421.99 L326.04 419.80 L326.07 417.62 L326.10 415.44 L326.14 413.25 L326.17 411.07 L326.21 408.89 L326.24 406.71 L326.28 404.52 L326.31 402.34 L326.35 400.16 L326.38 397.97 L326.42 395.79 L326.46 393.61 L326.49 391.43 L326.53 389.24 L326.56 387.06 L326.60 384.88 L326.63 382.69 L326.67 380.51 L326.71 378.33 L326.74 376.15 L326.78 373.96 L326.82 371.78 L326.85 369.60 L326.89 367.41 L326.93 365.23 L326.97 363.05 L327.01 360.87 L327.05 358.68 L327.09 356.50 L327.13 354.32 L327.17 352.13 L327.21 349.95 L327.25 347.77 L327.29 345.59 L327.32 343.40 L327.36 341.22 L327.40 339.04 L327.44 336.85 L327.47 334.67 L327.51 332.49 L327.54 330.31 L327.58 328.12 L327.61 325.94 L327.64 323.76 L327.67 321.57 L327.70 319.39 L327.73 317.21 L327.76 315.03 L327.79 312.84 L327.83 310.66 L327.86 308.48 L327.89 306.29 L327.92 304.11 L327.95 301.93 L327.99 299.75 L328.02 297.56 L328.06 295.38 L328.09 293.20 L328.13 291.01 L328.17 288.83 L328.21 286.65 L328.25 284.47 L328.29 282.28 L328.34 280.10 L328.38 277.92 L328.43 275.73 L328.47 273.55 L328.52 271.37 L328.56 269.19 L328.61 267.00 L328.66 264.82 L328.71 262.64 L328.76 260.46 L328.81 258.27 L328.86 256.09 L328.91 253.91 L328.97 251.73 L329.03 249.54 L329.08 247.36 L329.14 245.18 L329.20 243.00 L329.26 240.81 L329.32 238.63 L329.38 236.45 L329.44 234.27 L329.50 232.09 L329.56 229.90 L329.62 227.72 L329.67 225.54 L329.72 223.36 L329.77 221.17 L329.82 218.99 L329.87 216.81 L329.92 214.63 L329.97 212.44 L330.01 210.26 L330.06 208.08 L330.10 205.89 L330.15 203.71 L330.19 201.53 L330.24 199.35 L330.29 197.16 L330.33 194.98 L330.38 192.80 L330.43 190.62 L330.48 188.43 L330.53 186.25 L330.57 184.07 L330.62 181.89 L330.67 179.70 L330.72 177.52 L330.77 175.34 L330.82 173.16 L330.88 170.97 L330.93 168.79 L330.99 166.61 L331.04 164.43 L331.10 162.24 L331.15 160.06 L331.21 157.88 L331.27 155.70 L331.33 153.51 L331.39 151.33 L331.46 149.15 L331.52 146.97 L331.59 144.78 L331.66 142.60 L331.73 140.42 L331.81 138.24 L331.89 136.06 L331.97 133.88 L332.07 131.69 L332.17 129.51 L332.29 127.33 L332.41 125.15 L332.53 122.97 L332.65 120.79 L332.77 118.61 L332.88 116.43 L332.99 114.25 L333.09 112.07 L333.17 109.89 L333.25 107.71 L333.31 105.52 L333.36 103.34 L333.40 101.15 L333.45 98.96 L333.49 96.77 L333.53 94.59 L333.58 92.40 L333.64 90.22 L333.71 88.05 L333.80 85.87 L333.91 83.70 L334.15 81.54 L334.53 79.39 L334.96 77.24 L335.33 75.09 L335.67 72.93 L336.01 70.77 L336.34 68.62 L336.67 66.46 L337.00 64.30 L337.51 67.10 L338.02 69.91 L338.51 72.71 L338.99 75.52 L339.46 78.33 L339.93 81.14 L340.39 83.96 L340.77 86.78 L341.10 89.61 L341.39 92.44 L341.67 95.28 L341.92 98.11 L342.17 100.95 L342.42 103.79 L342.68 106.63 L342.95 109.47 L343.25 112.30 L343.57 115.13 L343.90 117.96 L344.24 120.79 L344.58 123.62 L344.93 126.45 L345.27 129.28 L345.60 132.11 L345.92 134.94 L346.22 137.78 L346.51 140.61 L346.79 143.44 L347.07 146.28 L347.34 149.12 L347.61 151.95 L347.88 154.79 L348.15 157.63 L348.42 160.46 L348.70 163.30 L348.99 166.13 L349.29 168.97 L349.60 171.80 L349.93 174.63 L350.27 177.46 L350.61 180.29 L350.96 183.12 L351.31 185.94 L351.65 188.77 L351.99 191.60 L352.31 194.43 L352.63 197.27 L352.93 200.10 L353.23 202.93 L353.53 205.77 L353.82 208.60 L354.12 211.44 L354.42 214.27 L354.72 217.11 L355.04 219.94 L355.36 222.77 L355.69 225.60 L356.03 228.43 L356.39 231.25 L356.77 234.07 L357.18 236.89 L357.60 239.71 L358.04 242.52 L358.50 245.33 L358.97 248.14 L359.45 250.95 L359.94 253.76 L360.44 256.57 L360.93 259.38 L361.43 262.18 L361.93 264.99 L362.42 267.80 L362.92 270.60 L363.42 273.41 L363.92 276.21 L364.44 279.01 L364.95 281.82 L365.47 284.62 L365.99 287.42 L366.52 290.22 L367.04 293.02 L367.57 295.82 L368.10 298.62 L368.62 301.42 L369.15 304.22 L369.67 307.02 L370.19 309.83 L370.71 312.63 L371.24 315.43 L371.77 318.23 L372.31 321.03 L372.85 323.82 L373.41 326.62 L373.97 329.41 L374.55 332.20 L375.14 334.99 L375.74 337.77 L376.37 340.55 L377.00 343.33 L377.64 346.10 L378.30 348.88 L378.96 351.65 L379.62 354.42 L380.29 357.19 L380.96 359.96 L381.62 362.73 L382.29 365.50 L382.95 368.28 L383.61 371.05 L384.28 373.82 L384.94 376.59 L385.61 379.36 L386.28 382.13 L386.96 384.90 L387.65 387.67 L388.35 390.43 L389.06 393.19 L389.78 395.94 L390.52 398.69 L391.27 401.44 L392.03 404.19 L392.78 406.94 L393.55 409.69 L394.33 412.44 L395.13 415.18 L395.94 417.92 L396.77 420.65 L397.62 423.37 L398.49 426.08 L399.39 428.78 L400.32 431.46 L401.29 434.12 L402.31 436.77 L403.38 439.40 L404.50 442.02 L405.65 444.63 L406.83 447.23 L408.02 449.83 L409.23 452.42 L410.43 455.01 L411.62 457.60 L412.80 460.20 L413.96 462.80 L415.13 465.40 L416.30 468.00 L417.49 470.59 L418.69 473.17 L419.91 475.74 L421.15 478.31 L422.39 480.88 L423.65 483.44 L424.93 485.98 L426.22 488.52 L427.54 491.05 L428.87 493.56 L430.23 496.07 L431.60 498.57 L433.00 501.06 L434.42 503.53 L435.86 505.99 L437.34 508.43 L438.84 510.84 L440.39 513.23 L441.98 515.59 L443.60 517.93 L445.25 520.26 L446.91 522.58 L448.59 524.89 L450.27 527.19 L451.95 529.49 L453.64 531.78 L455.35 534.07 L457.06 536.36 L458.79 538.63 L460.53 540.89 L462.29 543.13 L464.07 545.36 L465.87 547.56 L467.69 549.74 L469.53 551.90 L471.40 554.06 L473.28 556.20 L475.18 558.33 L477.10 560.44 L479.04 562.54 L481.00 564.62 L482.98 566.68 L484.98 568.72 L487.01 570.73 L489.05 572.71 L491.11 574.66 L493.19 576.58 L495.30 578.48 L497.45 580.35 L499.62 582.19 L501.81 584.02 L504.03 585.82 L506.26 587.60 L508.51 589.37 L510.77 591.12 L513.04 592.85 L515.31 594.57 L517.59 596.27 L519.88 597.97 L522.18 599.65 L524.48 601.33 L526.80 602.99 L529.14 604.64 L531.48 606.27 L533.84 607.88 L536.21 609.47 L538.60 611.03 L541.00 612.56 L543.41 614.06 L545.84 615.52 L548.29 616.97 L550.76 618.39 L553.24 619.79 L555.74 621.16 L558.25 622.52 L560.78 623.86 L563.31 625.17 L565.86 626.46 L568.42 627.73 L570.98 628.98 L573.56 630.20 L576.13 631.39 L578.72 632.56 L581.33 633.70 L583.95 634.82 L586.58 635.92 L589.22 636.99 L591.87 638.06 L594.52 639.11 L597.18 640.15 L599.84 641.18 L602.50 642.21 L605.16 643.23 L607.82 644.25 L610.48 645.28 L613.14 646.29 L615.81 647.30 L618.48 648.30 L621.15 649.30 L623.83 650.27 L626.51 651.24 L629.20 652.18 L631.89 653.10 L634.59 654.01 L637.30 654.88 L640.01 655.75 L642.73 656.59 L645.46 657.42 L648.19 658.24 L650.92 659.04 L653.66 659.84 L656.41 660.62 L659.15 661.39 L661.90 662.15 L664.65 662.90 L667.40 663.65 L670.15 664.39 L672.90 665.11 L675.66 665.83 L678.42 666.54 L681.18 667.24 L683.95 667.93 L686.71 668.61 L689.48 669.29 L692.25 669.96 L695.02 670.63 L697.79 671.29 L700.56 671.96 L703.34 672.63 L706.11 673.29 L708.88 673.96 L711.66 674.61 L714.44 675.26 L717.22 675.89 L720.00 676.51 L722.78 677.12 L725.57 677.73 L728.36 678.34 L731.15 678.95 L733.93 679.54 L736.73 680.14 L739.52 680.73 L742.31 681.31 L745.11 681.88 L747.90 682.44 L750.70 682.99 L753.50 683.53 L756.30 684.06 L759.10 684.58 L761.91 685.08 L764.71 685.57 L767.52 686.05 L770.33 686.53 L773.14 687.00 L775.95 687.46 L778.77 687.91 L781.58 688.36 L784.40 688.80 L787.22 689.24 L790.04 689.67 L792.86 690.09 L795.68 690.52 L798.50 690.93 L801.32 691.35 L804.15 691.76 L806.97 692.16 L809.79 692.57 L812.62 692.97 L815.44 693.37 L818.26 693.76 L821.09 694.16 L823.91 694.56 L826.73 694.95 L829.55 695.34 L832.38 695.73 L835.20 696.11 L838.03 696.50 L840.85 696.88 L843.68 697.26 L846.51 697.63 L849.33 698.00 L852.16 698.37 L854.99 698.74 L857.82 699.10 L860.64 699.46 L863.47 699.82 L866.30 700.17 L869.13 700.52 L871.96 700.87 L874.79 701.21 L877.62 701.55 L880.45 701.89 L883.28 702.22 L886.11 702.54 L888.95 702.87 L891.78 703.19 L894.61 703.51 L897.44 703.83 L900.28 704.15 L903.11 704.46 L905.94 704.77 L908.78 705.08 L911.61 705.39 L914.45 705.69 L917.28 705.99 L920.12 706.28 L922.95 706.57 L925.79 706.86 L928.63 707.15 L931.46 707.43 L934.30 707.70 L937.14 707.98 L939.97 708.24 L942.81 708.51 L945.65 708.77 L948.49 709.02 L951.33 709.27 L954.17 709.51 L957.01 709.76 L959.85 709.99 L962.69 710.23 L965.53 710.46 L968.37 710.69 L971.21 710.92 L974.05 711.14 L976.89 711.36 L979.74 711.58 L982.58 711.80 L985.42 712.01 L988.26 712.22 L991.11 712.44 L993.95 712.65 L996.79 712.86 L999.63 713.06 L1002.48 713.27 L1005.32 713.48 L1008.16 713.69 L1011.00 713.89 L1013.85 714.10 L1016.69 714.30 L1019.53 714.50 L1022.38 714.71 L1025.22 714.90 L1028.06 715.10 L1030.91 715.30 L1033.75 715.49 L1036.59 715.69 L1039.44 715.88 L1042.28 716.07 L1045.12 716.26 L1047.97 716.45 L1050.81 716.63 L1053.66 716.82 L1056.50 717.00" stroke="#0000ff" stroke-dasharray="16.67 16.67"/>
</g>
<text class="tick" x="151.50" y="819.7" text-anchor="middle">-5</text>
<text class="tick" x="280.64" y="819.7" text-anchor="middle">0</text>
<text class="tick" x="409.79" y="819.7" text-anchor="middle">5</text>
<text class="tick" x="538.93" y="819.7" text-anchor="middle">10</text>
<text class="tick" x="668.07" y="819.7" text-anchor="middle">15</text>
<text class="tick" x="797.21" y="819.7" text-anchor="middle">20</text>
<text class="tick" x="926.36" y="819.7" text-anchor="middle">25</text>
<text class="tick" x="1055.50" y="819.7" text-anchor="middle">30</text>
<text class="tick" x="140.1" y="789.00" text-anchor="end">0</text>
<text class="tick" x="140.1" y="717.70" text-anchor="end">0.1</text>
<text class="tick" x="140.1" y="646.40" text-anchor="end">0.2</text>
<text class="tick" x="140.1" y="575.10" text-anchor="end">0.3</text>
<text class="tick" x="140.1" y="503.80" text-anchor="end">0.4</text>
<text class="tick" x="140.1" y="432.50" text-anchor="end">0.5</text>
<text class="tick" x="140.1" y="361.20" text-anchor="end">0.6</text>
<text class="tick" x="140.1" y="289.90" text-anchor="end">0.7</text>
<text class="tick" x="140.1" y="218.60" text-anchor="end">0.8</text>
<text class="tick" x="140.1" y="147.30" text-anchor="end">0.9</text>
<text class="tick" x="140.1" y="76.00" text-anchor="end">1</text>
<text class="lab" transform="translate(63.6 420.9) rotate(-90)" text-anchor="middle" letter-spacing="0.24">Likelihood</text>
<text class="math" font-size="39.7" fill="#262626" stroke="#262626" stroke-width="0.5" transform="translate(483.7 865) scale(1.246 1)">Δ</text>
<text class="math" font-style="italic" font-size="35.8" fill="#262626" stroke="#262626" stroke-width="0.35" transform="translate(517.8 865.1) scale(1.204 1)">α</text>
<text class="lab" x="544.3" y="864.9">/</text>
<text class="math" font-style="italic" font-size="35.8" fill="#262626" stroke="#262626" stroke-width="0.35" transform="translate(558.9 865.1) scale(1.204 1)">α</text>
<text class="lab" x="598.6" y="864.7">(ppm)</text>
<rect x="746.5" y="81.5" width="293" height="122.9" fill="#fff" stroke="#262626" stroke-width="1.25"/>
<g fill="none" stroke-width="4.17">
<path d="M754.3 104.3 H816.8" stroke="#ff0000" stroke-dasharray="4.17 4.17"/>
<path d="M754.3 142.4 H816.8" stroke="#00ff00" stroke-dasharray="16.67 4.17 8.33 4.17"/>
<path d="M754.3 181.5 H816.8" stroke="#0000ff" stroke-dasharray="16.67 16.67"/>
</g>
<text class="leg" x="823" y="115.2">He4+D+Li7</text>
<text class="leg" x="823" y="153.3">He4+D+He3</text>
<text class="leg" x="823" y="192.4">All</text>
</svg></body></html>
